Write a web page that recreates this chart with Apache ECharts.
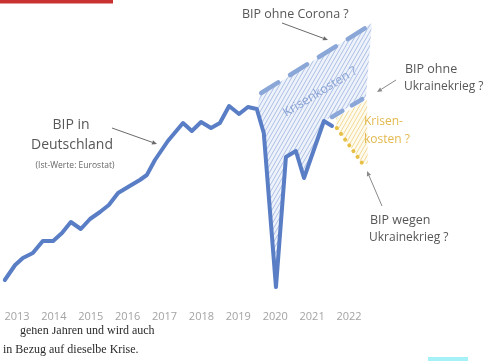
<!DOCTYPE html>
<html>
<head>
<meta charset="utf-8">
<script src="https://cdn.jsdelivr.net/npm/echarts@6/dist/echarts.min.js"></script>
<style>html,body{margin:0;padding:0;background:#fff;}#c{width:494px;height:361px;}</style>
</head>
<body>
<div id="c"></div>
<script>
// ---- data (x: decimal year, y: GDP index, arbitrary units) ----
const years = [2013, 2014, 2015, 2016, 2017, 2018, 2019, 2020, 2021, 2022];
const actualT = [2012.67, 2012.95, 2013.16, 2013.43, 2013.70, 2013.98, 2014.22, 2014.46, 2014.73, 2014.98,
                 2015.25, 2015.49, 2015.74, 2016.01, 2016.33, 2016.52, 2016.74, 2017.09, 2017.50, 2017.74,
                 2017.99, 2018.26, 2018.50, 2018.75, 2019.02, 2019.26, 2019.50, 2019.69, 2020.02, 2020.29,
                 2020.56, 2020.78, 2021.32, 2021.54];
const actualV = [81, 96, 103, 108, 120, 120, 128, 139, 132, 142,
                 149, 156, 168, 174, 181, 186, 201, 220, 238, 230,
                 239, 233, 238, 255, 247, 254, 252, 228, 74, 204,
                 210, 183, 240, 235];
const noCoronaT = [2019.62, 2022.62];
const noCoronaV = [268, 337];
const noWarT = [2021.54, 2022.46];
const noWarV = [244, 264];
const warT = [2021.67, 2022.35];
const warV = [233, 198];
const coronaCostT = [2019.50, 2019.59, 2022.62, 2022.46, 2021.54, 2021.32, 2020.78, 2020.56, 2020.29, 2020.02, 2019.69];
const coronaCostV = [253, 266, 338, 264, 244, 240, 183, 210, 204, 74, 228];
const warCostT = [2021.64, 2022.49, 2022.51, 2022.35, 2021.67];
const warCostV = [243, 261, 197, 198, 233];

const zip = (a, b) => a.map((t, i) => [t, b[i]]);

function hatch(color, bg) {
  const c = document.createElement('canvas');
  c.width = 4; c.height = 7;
  const ctx = c.getContext('2d');
  if (bg) { ctx.fillStyle = bg; ctx.fillRect(0, 0, 4, 7); }
  ctx.strokeStyle = color; ctx.lineWidth = 1;
  ctx.beginPath();
  for (const dx of [-4, 0, 4]) { ctx.moveTo(dx, 7); ctx.lineTo(dx + 4, 0); }
  ctx.stroke();
  return { image: c, repeat: 'repeat' };
}
const blueHatch = hatch('#adc0e5', 'rgba(222,230,246,0.5)');
const yellowHatch = hatch('#f3d995', 'rgba(252,246,226,0.6)');

const hand = "'Open Sans', sans-serif";
const txt = (text, x, y, size, fill, align) => ({
  type: 'text', z: 50,
  style: { text, x, y, font: size + 'px ' + hand, fill, align: align || 'left', verticalAlign: 'middle' }
});
const arrow = (x1, y1, x2, y2, col) => {
  const a = Math.atan2(y2 - y1, x2 - x1), L = 5, W = 2.2;
  const bx = x2 - L * Math.cos(a), by = y2 - L * Math.sin(a);
  return [
    { type: 'line', z: 50, shape: { x1, y1, x2: bx, y2: by }, style: { stroke: col, lineWidth: 1 } },
    { type: 'polygon', z: 50, shape: { points: [[x2, y2], [bx - W * Math.sin(a), by + W * Math.cos(a)], [bx + W * Math.sin(a), by - W * Math.cos(a)]] }, style: { fill: col } }
  ];
};

const chart = echarts.init(document.getElementById('c'), null, { renderer: 'canvas' });
chart.setOption({
  animation: false,
  backgroundColor: '#ffffff',
  grid: { left: 0, right: 0, top: 0, bottom: 55 },
  xAxis: {
    type: 'value', min: 2012.54, max: 2025.93,
    axisLine: { show: false }, axisTick: { show: false }, splitLine: { show: false },
    axisLabel: { customValues: years, color: '#a3a3a3', fontSize: 11, fontFamily: hand, margin: 5,
                 formatter: v => String(Math.round(v)) }
  },
  yAxis: { type: 'value', min: 55, max: 361, show: false },
  series: [
    {
      type: 'custom', silent: true, z: 1, data: [[2020, 200]],
      renderItem: (p, api) => ({
        type: 'group',
        children: [
          { type: 'polygon', shape: { points: coronaCostT.map((t, i) => api.coord([t, coronaCostV[i]])) }, style: { fill: blueHatch } },
          { type: 'polygon', shape: { points: warCostT.map((t, i) => api.coord([t, warCostV[i]])) }, style: { fill: yellowHatch } }
        ]
      })
    },
    { type: 'line', data: zip(noCoronaT, noCoronaV), showSymbol: false, z: 3,
      lineStyle: { color: '#8aa7d8', width: 4.5, type: [20, 14], cap: 'round' } },
    { type: 'line', data: zip(noWarT, noWarV), showSymbol: false, z: 3,
      lineStyle: { color: '#8aa7d8', width: 4.5, type: [12, 11], cap: 'round' } },
    { type: 'line', data: zip(warT, warV), showSymbol: false, z: 3,
      lineStyle: { color: '#e7bf45', width: 4, type: [0.1, 7], cap: 'round' } },
    { type: 'line', data: zip(actualT, actualV), showSymbol: false, z: 4,
      lineStyle: { color: '#5a7ec5', width: 4, join: 'round', cap: 'round' } }
  ],
  graphic: [
    { type: 'rect', shape: { x: 0, y: 0, width: 113, height: 3.5 }, style: { fill: '#c8312f' } },
    { type: 'rect', shape: { x: 428, y: 357, width: 40, height: 4 }, style: { fill: '#a6f0f8' } },
    txt('BIP ohne Corona ?', 242, 14, 12.5, '#575757'),
    ...arrow(282, 23, 328, 40, '#6a6a6a'),
    txt('BIP ohne', 405, 69, 12.5, '#575757'),
    txt('Ukrainekrieg ?', 404, 87, 12, '#575757'),
    ...arrow(396, 80, 377, 92, '#8a8a8a'),
    txt('Krisen-', 364, 122, 12, '#e3b94f'),
    txt('kosten ?', 364, 140, 12, '#e3b94f'),
    { type: 'text', z: 50, x: 320, y: 92, rotation: 0.55,
      style: { text: 'Krisenkosten ?', x: 0, y: 0, font: '12.5px ' + hand, fill: '#8aa3d5', align: 'center', verticalAlign: 'middle' } },
    txt('BIP wegen', 370, 220, 12.5, '#575757'),
    txt('Ukrainekrieg ?', 369, 238, 12, '#575757'),
    ...arrow(382, 206, 367, 171, '#8a8a8a'),
    txt('BIP in', 71, 125, 14, '#575757', 'center'),
    txt('Deutschland', 72, 145, 14, '#575757', 'center'),
    txt('(Ist-Werte: Eurostat)', 75, 166, 8.5, '#666666', 'center'),
    ...arrow(112, 128, 157, 144, '#6a6a6a'),
    { type: 'text', z: 50, style: { text: 'gehen Jahren und wird auch', x: 20, y: 331, font: "12px 'Liberation Serif', serif", fill: '#2a2a2a', verticalAlign: 'middle' } },
    { type: 'rect', z: 51, shape: { x: 18, y: 321, width: 60, height: 6 }, style: { fill: '#ffffff' } },
    { type: 'text', z: 50, style: { text: 'r in Bezug auf dieselbe Krise.', x: -4, y: 350, font: "12px 'Liberation Serif', serif", fill: '#2a2a2a', verticalAlign: 'middle' } }
  ]
});
</script>
</body>
</html>
